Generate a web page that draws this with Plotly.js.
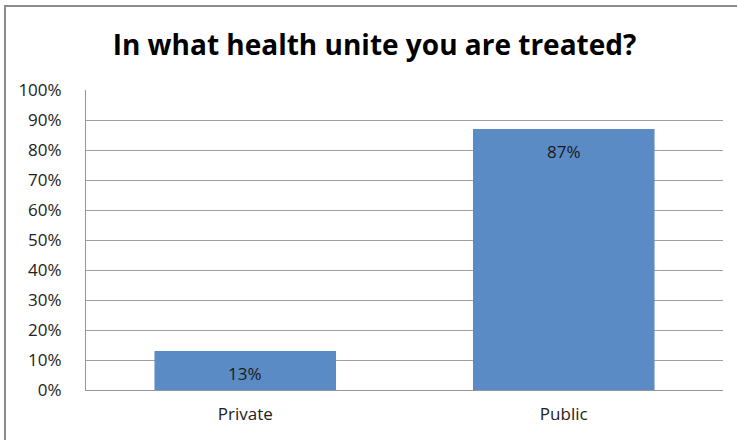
<!DOCTYPE html>
<html>
<head>
<meta charset="utf-8">
<script src="https://cdn.plot.ly/plotly-3.0.1.min.js"></script>
<style>
  html, body { margin: 0; padding: 0; background: #fff; }
  #chart { width: 737px; height: 440px; }
</style>
</head>
<body>
<div id="chart"></div>
<script>
const categories = ["Private", "Public"];
const values = [0.13, 0.87];
const labels = ["13%", "87%"];
const titleText = "In what health unite you are treated?";

const FONT = "Open Sans, Liberation Sans, Arial, sans-serif";
const barColor = "#5B8BC5";

const trace = {
  type: "bar",
  x: categories,
  y: values,
  marker: { color: barColor, line: { width: 0 } },
  width: 0.57,
  hoverinfo: "none"
};

const annotations = categories.map((c, i) => ({
  x: c, y: values[i], xref: "x", yref: "y",
  text: labels[i], showarrow: false,
  yanchor: "top", yshift: -9,
  font: { family: FONT, size: 17, color: "#1a1a1a" }
}));

const layout = {
  width: 737, height: 440,
  margin: { l: 86, r: 14, t: 90, b: 50 },
  paper_bgcolor: "#fff", plot_bgcolor: "#fff",
  showlegend: false,
  bargap: 0.43,
  title: {
    text: "<b>" + titleText + "</b>",
    x: 374.5 / 737, xref: "container", xanchor: "center",
    y: 1 - 45 / 440, yref: "container", yanchor: "middle",
    font: { family: FONT, size: 28, color: "#000" }
  },
  xaxis: {
    type: "category",
    showgrid: false, zeroline: false,
    showline: true, linecolor: "#969696", linewidth: 1,
    ticks: "", ticklabelstandoff: 9,
    tickfont: { family: FONT, size: 17, color: "#222" },
    fixedrange: true
  },
  yaxis: {
    range: [0, 1], dtick: 0.1, tick0: 0,
    tickformat: ".0%",
    showgrid: true, gridcolor: "#A0A0A0", gridwidth: 1,
    zeroline: false,
    showline: true, linecolor: "#969696", linewidth: 1,
    ticks: "", ticklabelstandoff: 20,
    tickfont: { family: FONT, size: 17, color: "#222" },
    fixedrange: true
  },
  annotations: annotations,
  shapes: [{
    type: "rect", xref: "paper", yref: "paper",
    x0: (5 - 86) / 637, x1: (745 - 86) / 637,
    y0: (390 - 445) / 300, y1: (390 - 6) / 300,
    line: { color: "#8C8C8C", width: 2 }, fillcolor: "rgba(0,0,0,0)",
    layer: "above"
  }]
};

Plotly.newPlot("chart", [trace], layout, { displayModeBar: false, staticPlot: true });
</script>
</body>
</html>
